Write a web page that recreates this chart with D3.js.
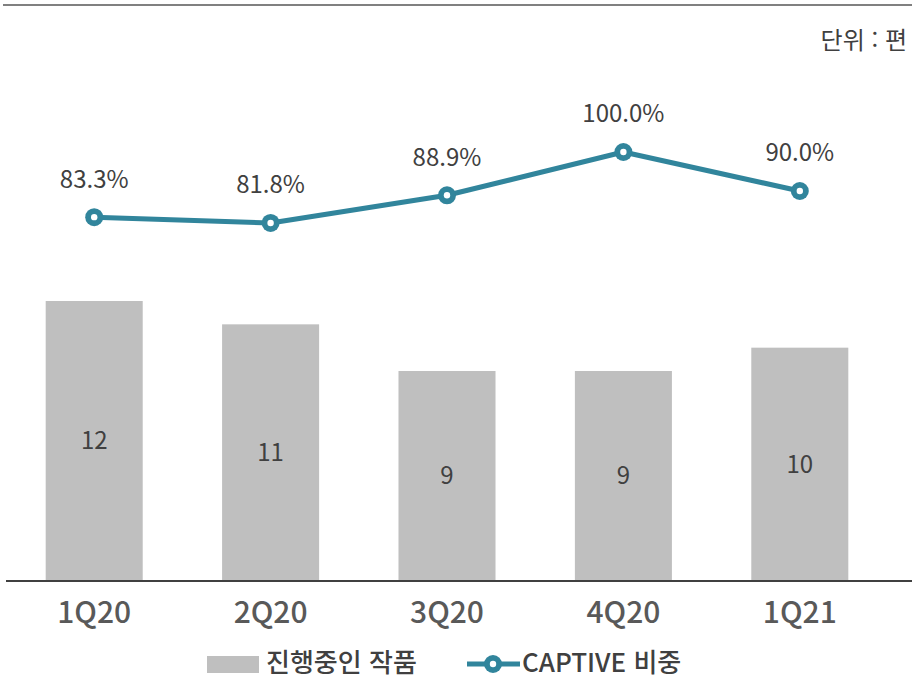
<!DOCTYPE html>
<html lang="ko">
  <head>
    <meta charset="utf-8">
    <title>진행중인 작품 / CAPTIVE 비중</title>
    <script src="https://cdnjs.cloudflare.com/ajax/libs/d3/7.8.5/d3.min.js"></script>
    <style>
      body { margin: 0; background: #fff; }
      text { font-family: "Noto Sans CJK KR", "Noto Sans", sans-serif; }
    </style>
  </head>
  <body>
    <div class="chart"></div>
    <script>
      // data
      var quarters = ["1Q20", "2Q20", "3Q20", "4Q20", "1Q21"];
      var projects = [12, 11, 9, 9, 10];
      var captiveShare = [83.3, 81.8, 88.9, 100.0, 90.0];
      var barName = "진행중인 작품";
      var lineName = "CAPTIVE 비중";
      var unitLabel = "단위 : 편";

      var svgWidth = 912;
      var svgHeight = 679;
      var teal = "#31859c";
      var textColor = "#404040";

      var svg = d3.select(".chart")
        .append("svg")
        .attr("width", svgWidth)
        .attr("height", svgHeight);

      // top rule
      svg.append("line")
        .attr("x1", 3).attr("x2", svgWidth)
        .attr("y1", 5).attr("y2", 5)
        .attr("stroke", "#808080")
        .attr("stroke-width", 2);

      svg.append("text")
        .attr("x", 907)
        .attr("y", 49)
        .attr("text-anchor", "end")
        .attr("font-size", 24)
        .attr("fill", textColor)
        .text(unitLabel);

      var x = d3.scaleBand()
        .domain(quarters)
        .range([6, 888])
        .paddingInner(0.45)
        .paddingOuter(0.225);

      var yBar = d3.scaleLinear()
        .domain([0, 12])
        .range([581, 301]);

      var yLine = d3.scaleLinear()
        .domain([0, 100])
        .range([542, 152]);

      // bars
      var bars = svg.append("g");
      bars.selectAll("rect")
        .data(projects)
        .enter()
        .append("rect")
        .attr("x", (d, i) => x(quarters[i]))
        .attr("y", d => yBar(d))
        .attr("width", x.bandwidth())
        .attr("height", d => yBar(0) - yBar(d))
        .attr("fill", "#bfbfbf");

      bars.selectAll("text")
        .data(projects)
        .enter()
        .append("text")
        .attr("x", (d, i) => x(quarters[i]) + x.bandwidth() / 2)
        .attr("y", d => (yBar(d) + yBar(0)) / 2)
        .attr("dy", "0.35em")
        .attr("text-anchor", "middle")
        .attr("font-size", 24)
        .attr("font-family", "Lato, 'Noto Sans', sans-serif")
        .attr("fill", textColor)
        .text(d => d);

      // x axis
      var xAxis = svg.append("g")
        .attr("transform", "translate(0,581)")
        .call(d3.axisBottom(x).tickSize(0).tickPadding(21));
      xAxis.select(".domain")
        .attr("d", "M6,0H912")
        .attr("stroke", "#404040")
        .attr("stroke-width", 2);
      xAxis.selectAll("text")
        .attr("font-size", 30)
        .attr("font-weight", 500)
        .attr("font-family", "'Noto Sans', sans-serif")
        .attr("fill", "#595959");

      // line
      var cx = (d, i) => x(quarters[i]) + x.bandwidth() / 2;
      var line = d3.line()
        .x(cx)
        .y(d => yLine(d));

      svg.append("path")
        .datum(captiveShare)
        .attr("d", line)
        .attr("fill", "none")
        .attr("stroke", teal)
        .attr("stroke-width", 5)
        .attr("stroke-linejoin", "round");

      var pts = svg.append("g");
      pts.selectAll("circle.outer")
        .data(captiveShare)
        .enter()
        .append("circle")
        .attr("class", "outer")
        .attr("cx", cx)
        .attr("cy", d => yLine(d))
        .attr("r", 9)
        .attr("fill", teal);
      pts.selectAll("circle.inner")
        .data(captiveShare)
        .enter()
        .append("circle")
        .attr("class", "inner")
        .attr("cx", cx)
        .attr("cy", d => yLine(d))
        .attr("r", 3.2)
        .attr("fill", "#fff");

      pts.selectAll("text")
        .data(captiveShare)
        .enter()
        .append("text")
        .attr("x", cx)
        .attr("y", d => yLine(d) - 38)
        .attr("dy", "0.35em")
        .attr("text-anchor", "middle")
        .attr("font-size", 24)
        .attr("font-family", "Lato, 'Noto Sans', sans-serif")
        .attr("fill", textColor)
        .text(d => d.toFixed(1) + "%");

      // legend
      var legend = svg.append("g");
      legend.append("rect")
        .attr("x", 207).attr("y", 656)
        .attr("width", 52).attr("height", 17)
        .attr("fill", "#bfbfbf");
      legend.append("text")
        .attr("x", 266).attr("y", 663)
        .attr("dy", "0.35em")
        .attr("font-size", 26)
        .attr("font-weight", 500)
        .attr("fill", textColor)
        .text(barName);

      legend.append("line")
        .attr("x1", 467).attr("x2", 520)
        .attr("y1", 664).attr("y2", 664)
        .attr("stroke", teal)
        .attr("stroke-width", 5);
      legend.append("circle")
        .attr("cx", 493).attr("cy", 664).attr("r", 9).attr("fill", teal);
      legend.append("circle")
        .attr("cx", 493).attr("cy", 664).attr("r", 3.2).attr("fill", "#fff");
      legend.append("text")
        .attr("x", 522).attr("y", 663)
        .attr("dy", "0.35em")
        .attr("font-size", 26)
        .attr("font-weight", 500)
        .attr("fill", textColor)
        .text(lineName);
    </script>
  </body>
</html>
